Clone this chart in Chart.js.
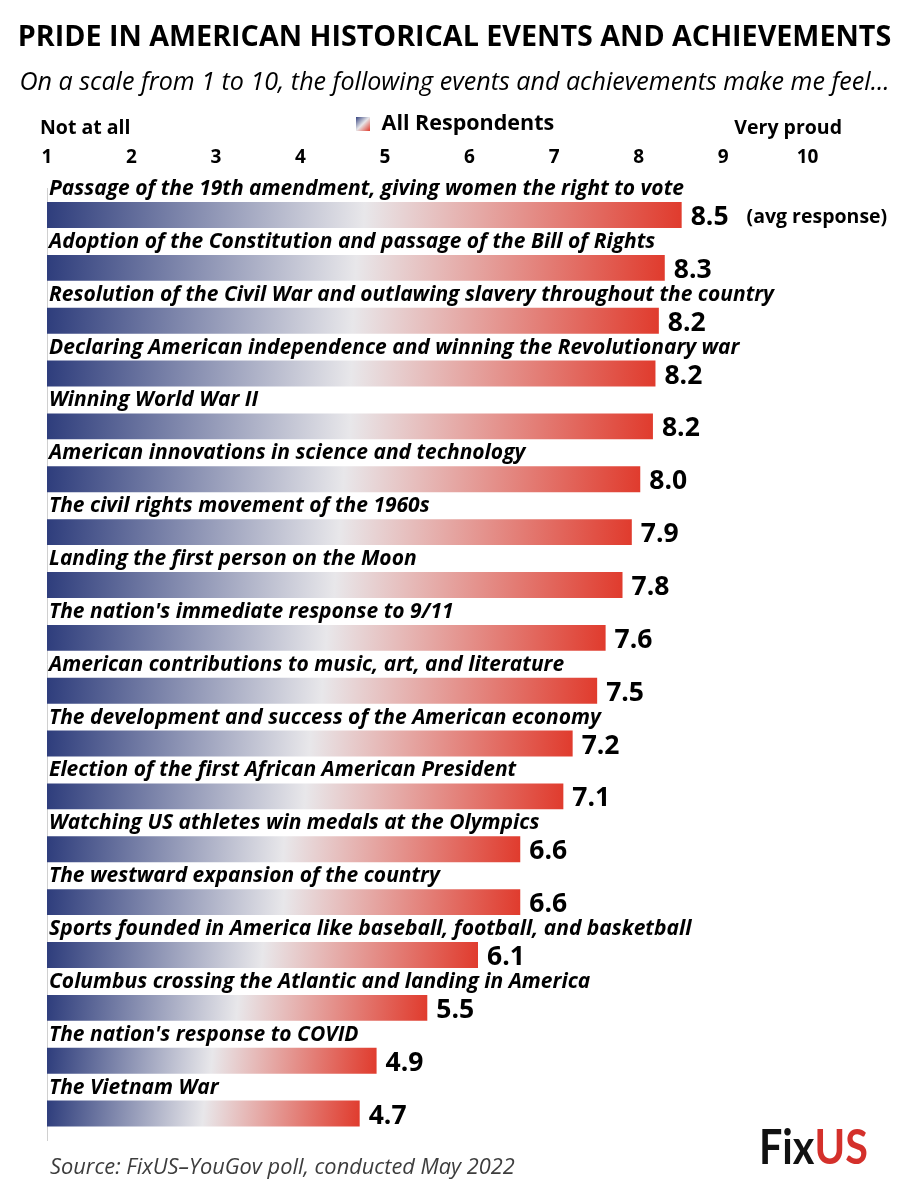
<!DOCTYPE html>
<html lang="en">
<head>
    <meta charset="UTF-8">
    <title>Pride in American Historical Events and Achievements</title>
    <script src="https://cdn.jsdelivr.net/npm/chart.js"></script>
    <style>
        html, body { margin: 0; padding: 0; background: #fff; }
        .chart-box { position: relative; width: 909px; height: 1200px; }
    </style>
</head>
<body>
<div class="chart-box">
    <canvas id="prideChart"></canvas>
</div>
<script>
    const events = [
        "Passage of the 19th amendment, giving women the right to vote",
        "Adoption of the Constitution and passage of the Bill of Rights",
        "Resolution of the Civil War and outlawing slavery throughout the country",
        "Declaring American independence and winning the Revolutionary war",
        "Winning World War II",
        "American innovations in science and technology",
        "The civil rights movement of the 1960s",
        "Landing the first person on the Moon",
        "The nation's immediate response to 9/11",
        "American contributions to music, art, and literature",
        "The development and success of the American economy",
        "Election of the first African American President",
        "Watching US athletes win medals at the Olympics",
        "The westward expansion of the country",
        "Sports founded in America like baseball, football, and basketball",
        "Columbus crossing the Atlantic and landing in America",
        "The nation's response to COVID",
        "The Vietnam War"
    ];
    // average response (1-10)
    const avgScores = [8.51, 8.31, 8.24, 8.20, 8.17, 8.02, 7.92, 7.81, 7.61, 7.51, 7.22, 7.11, 6.6, 6.6, 6.1, 5.5, 4.9, 4.7];
    const scaleTicks = [1, 2, 3, 4, 5, 6, 7, 8, 9, 10];
    const scaleEnds = ["Not at all", "Very proud"];
    const seriesName = "All Respondents";
    const axisMax = 11.2; // leaves room right of "10" for the value labels

    const BLUE = "#2e3d7c";
    const MID = "#e8e7ea";
    const RED = "#e03b2d";
    const FONT = "'Open Sans', sans-serif";

    function barFill(c) {
        const chart = c.chart;
        if (!chart.chartArea || c.type !== "data") return RED;
        const x = chart.scales.x;
        const y = chart.scales.y;
        const x0 = x.getPixelForValue(scaleTicks[0]);
        const x1 = x.getPixelForValue(avgScores[c.dataIndex]);
        const yc = y.getPixelForValue(c.dataIndex);
        const g = chart.ctx.createLinearGradient(x0, yc - 14, x1, yc + 14);
        g.addColorStop(0, BLUE);
        g.addColorStop(0.5, MID);
        g.addColorStop(1, RED);
        return g;
    }

    // little gradient square for the legend
    const swatch = document.createElement("canvas");
    swatch.width = 14;
    swatch.height = 14;
    const sctx = swatch.getContext("2d");
    const sg = sctx.createLinearGradient(0, 0, 14, 14);
    sg.addColorStop(0, BLUE);
    sg.addColorStop(0.5, MID);
    sg.addColorStop(1, RED);
    sctx.fillStyle = sg;
    sctx.fillRect(0, 0, 14, 14);

    const annotations = {
        id: "annotations",
        afterDatasetsDraw(chart) {
            const ctx = chart.ctx;
            const x = chart.scales.x;
            const bars = chart.getDatasetMeta(0).data;
            ctx.save();
            ctx.fillStyle = "#000";
            ctx.textBaseline = "alphabetic";

            // category labels above each bar, values after each bar
            bars.forEach((bar, i) => {
                const top = bar.y - bar.height / 2;
                ctx.font = "italic bold 21px " + FONT;
                ctx.textAlign = "left";
                ctx.fillText(events[i], x.getPixelForValue(scaleTicks[0]) + 2, top - 7);

                ctx.font = "bold 26.5px " + FONT;
                const label = avgScores[i].toFixed(1);
                ctx.fillText(label, bar.x + 9, bar.y + 10);
                if (i === 0) {
                    const w = ctx.measureText(label).width;
                    ctx.font = "bold 19.5px " + FONT;
                    ctx.fillText("(avg response)", bar.x + 9 + w + 18, bar.y + 8);
                }
            });

            // scale end captions above the tick numbers
            ctx.font = "bold 19.5px " + FONT;
            ctx.textBaseline = "middle";
            ctx.textAlign = "left";
            ctx.fillText(scaleEnds[0], x.getPixelForValue(scaleTicks[0]) - 7, 128);
            ctx.textAlign = "center";
            ctx.fillText(scaleEnds[1], x.getPixelForValue(9.77), 128);

            // source + logo
            ctx.textAlign = "left";
            ctx.font = "italic 21.8px " + FONT;
            ctx.fillStyle = "#3d3d3d";
            ctx.fillText("Source: FixUS\u2013YouGov poll, conducted May 2022", 50, 1168);

            ctx.textBaseline = "alphabetic";
            ctx.translate(759, 1164);
            ctx.scale(0.88, 1);
            ctx.font = "bold 47px Lato, " + FONT;
            ctx.fillStyle = "#111";
            ctx.fillText("Fix", 0, 0);
            const fw = ctx.measureText("Fix").width;
            ctx.fillStyle = "#d4302b";
            ctx.fillText("US", fw, 0);
            ctx.restore();
        }
    };

    new Chart(document.getElementById("prideChart"), {
        type: "bar",
        data: {
            labels: events,
            datasets: [{
                label: seriesName,
                data: avgScores,
                base: scaleTicks[0],
                backgroundColor: barFill,
                borderWidth: 0,
                categoryPercentage: 1,
                barPercentage: 0.49
            }]
        },
        options: {
            indexAxis: "y",
            responsive: true,
            maintainAspectRatio: false,
            animation: false,
            layout: { padding: { left: 0, right: 0, top: 0, bottom: 60 } },
            scales: {
                x: {
                    position: "top",
                    min: 1,
                    max: axisMax,
                    afterBuildTicks: (axis) => { axis.ticks = scaleTicks.map(v => ({ value: v })); },
                    afterFit: (axis) => { axis.height = 44; },
                    grid: { display: false, drawTicks: false },
                    border: { display: false },
                    ticks: {
                        color: "#000",
                        font: { family: FONT, size: 19, weight: "bold" },
                        padding: 20,
                        maxRotation: 0
                    }
                },
                y: {
                    afterFit: (axis) => { axis.width = 47; },
                    grid: { display: false, drawTicks: false },
                    border: { display: true, color: "#d0d0d0", width: 1 },
                    ticks: { display: false }
                }
            },
            plugins: {
                title: {
                    display: true,
                    text: "PRIDE IN AMERICAN HISTORICAL EVENTS AND ACHIEVEMENTS",
                    color: "#000",
                    font: { family: FONT, size: 28.7, weight: "bold" },
                    padding: { top: 21, bottom: 12.5 }
                },
                subtitle: {
                    display: true,
                    text: "On a scale from 1 to 10, the following events and achievements make me feel...",
                    color: "#000",
                    font: { family: FONT, size: 25.1, style: "italic" },
                    padding: { top: 0, bottom: 9 }
                },
                legend: {
                    display: true,
                    position: "top",
                    labels: {
                        color: "#000",
                        font: { family: FONT, size: 21.5, weight: "bold" },
                        usePointStyle: true,
                        pointStyle: swatch,
                        boxWidth: 16,
                        padding: 6
                    }
                },
                tooltip: { enabled: false }
            }
        },
        plugins: [annotations]
    });
</script>
</body>
</html>
